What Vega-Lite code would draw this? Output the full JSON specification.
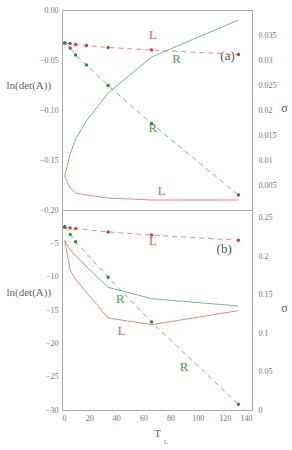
{
  "$schema": "https://vega.github.io/schema/vega-lite/v6.json",
  "padding": {"left": 5, "right": 2, "top": 5, "bottom": 1},
  "spacing": 0,
  "bounds": "flush",
  "config": {
    "font": "Liberation Serif",
    "view": {"stroke": "#aaaaaa", "strokeWidth": 1},
    "axis": {
      "labelFont": "Liberation Serif", "titleFont": "Liberation Serif",
      "labelColor": "#777777", "titleColor": "#666666",
      "labelFontSize": 8, "titleFontSize": 11, "titleFontWeight": "normal",
      "domain": false, "ticks": false, "grid": false, "labelOverlap": false, "tickCount": 30
    },
    "text": {"font": "Liberation Serif"}
  },
  "datasets": {
    "aDet": [
      {"T": 2, "v": -0.166, "series": "L"}, {"T": 6, "v": -0.178, "series": "L"}, {"T": 10, "v": -0.183, "series": "L"},
      {"T": 18, "v": -0.185, "series": "L"}, {"T": 34, "v": -0.188, "series": "L"}, {"T": 66, "v": -0.190, "series": "L"},
      {"T": 130, "v": -0.190, "series": "L"},
      {"T": 2, "v": -0.166, "series": "R"}, {"T": 6, "v": -0.144, "series": "R"}, {"T": 10, "v": -0.129, "series": "R"},
      {"T": 18, "v": -0.111, "series": "R"}, {"T": 34, "v": -0.083, "series": "R"}, {"T": 66, "v": -0.047, "series": "R"},
      {"T": 130, "v": -0.010, "series": "R"}
    ],
    "aSig": [
      {"T": 2, "s": 0.0334, "series": "L"}, {"T": 6, "s": 0.0333, "series": "L"}, {"T": 10, "s": 0.0331, "series": "L"},
      {"T": 18, "s": 0.0329, "series": "L"}, {"T": 34, "s": 0.0325, "series": "L"}, {"T": 66, "s": 0.0320, "series": "L"},
      {"T": 130, "s": 0.0311, "series": "L"},
      {"T": 2, "s": 0.0334, "series": "R"}, {"T": 6, "s": 0.0324, "series": "R"}, {"T": 10, "s": 0.0310, "series": "R"},
      {"T": 18, "s": 0.0290, "series": "R"}, {"T": 34, "s": 0.0249, "series": "R"}, {"T": 66, "s": 0.0173, "series": "R"},
      {"T": 130, "s": 0.0030, "series": "R"}
    ],
    "aLab": [
      {"T": 67, "v": -0.025, "text": "L", "series": "L"},
      {"T": 84.5, "v": -0.049, "text": "R", "series": "R"},
      {"T": 122, "v": -0.046, "text": "(a)", "series": "lab"},
      {"T": 67, "v": -0.118, "text": "R", "series": "R"},
      {"T": 73.5, "v": -0.181, "text": "L", "series": "L"}
    ],
    "bDet": [
      {"T": 2, "v": -4.6, "series": "L"}, {"T": 6, "v": -9.0, "series": "L"}, {"T": 10, "v": -10.4, "series": "L"},
      {"T": 34, "v": -16.2, "series": "L"}, {"T": 66, "v": -17.2, "series": "L"}, {"T": 130, "v": -15.1, "series": "L"},
      {"T": 2, "v": -4.6, "series": "R"}, {"T": 6, "v": -5.9, "series": "R"}, {"T": 10, "v": -6.9, "series": "R"},
      {"T": 34, "v": -11.6, "series": "R"}, {"T": 66, "v": -13.3, "series": "R"}, {"T": 130, "v": -14.4, "series": "R"}
    ],
    "bSig": [
      {"T": 2, "s": 0.2374, "series": "L"}, {"T": 6, "s": 0.2365, "series": "L"}, {"T": 10, "s": 0.2358, "series": "L"},
      {"T": 34, "s": 0.2315, "series": "L"}, {"T": 66, "s": 0.2274, "series": "L"}, {"T": 130, "s": 0.2207, "series": "L"},
      {"T": 2, "s": 0.2387, "series": "R"}, {"T": 6, "s": 0.2283, "series": "R"}, {"T": 10, "s": 0.2186, "series": "R"},
      {"T": 34, "s": 0.1725, "series": "R"}, {"T": 66, "s": 0.1143, "series": "R"}, {"T": 130, "s": 0.0075, "series": "R"}
    ],
    "bLab": [
      {"T": 67, "v": -4.7, "text": "L", "series": "L"},
      {"T": 119.5, "v": -5.8, "text": "(b)", "series": "lab"},
      {"T": 43, "v": -13.4, "text": "R", "series": "R"},
      {"T": 44, "v": -18.2, "text": "L", "series": "L"},
      {"T": 90, "v": -23.6, "text": "R", "series": "R"}
    ],
    "bSub": [
      {"T": 76.5, "v": -34.8, "text": "L", "series": "lab"}
    ]
  },
  "vconcat": [
    {
      "width": 190, "height": 200,
      "layer": [
        {
          "layer": [
            {
              "data": {"name": "aDet"},
              "mark": {"type": "line", "strokeWidth": 1, "opacity": 0.75},
              "encoding": {
                "x": {"field": "T", "type": "quantitative", "scale": {"domain": [0, 140]}, "axis": null},
                "y": {"field": "v", "type": "quantitative", "scale": {"domain": [-0.2, 0]},
                      "axis": {"orient": "left", "values": [0, -0.05, -0.1, -0.15, -0.2], "tickCount": 30, "format": ".2f", "labelPadding": 4,
                               "title": "ln(det(A))", "titleAngle": 0, "titleAlign": "left", "titleBaseline": "middle", "titleX": -56, "titleY": 75}},
                "color": {"field": "series", "type": "nominal", "scale": {"domain": ["L", "R", "lab"], "range": ["#e06060", "#4f9e62", "#555555"]}, "legend": null},
                "detail": {"field": "series"}
              }
            },
            {
              "data": {"name": "aLab"},
              "mark": {"type": "text", "fontSize": 13, "baseline": "middle", "align": "center"},
              "encoding": {
                "x": {"field": "T", "type": "quantitative"},
                "y": {"field": "v", "type": "quantitative"},
                "text": {"field": "text"},
                "color": {"field": "series", "type": "nominal", "legend": null}
              }
            }
          ]
        },
        {
          "layer": [
            {
              "data": {"name": "aSig"},
              "mark": {"type": "line", "strokeWidth": 1, "strokeDash": [5, 4], "opacity": 0.6},
              "encoding": {
                "x": {"field": "T", "type": "quantitative"},
                "y": {"field": "s", "type": "quantitative", "scale": {"domain": [0, 0.035]},
                      "axis": {"orient": "right", "values": [0.005, 0.01, 0.015, 0.02, 0.025, 0.03, 0.035], "tickCount": 30, "format": ".3~f", "labelPadding": 6,
                               "title": "σ", "titleAngle": 0, "titleAlign": "center", "titleBaseline": "middle", "titleX": 32, "titleY": 97, "titleFontSize": 12}},
                "color": {"field": "series", "type": "nominal", "legend": null}
              }
            },
            {
              "data": {"name": "aSig"},
              "mark": {"type": "circle", "size": 12, "opacity": 1},
              "encoding": {
                "x": {"field": "T", "type": "quantitative"},
                "y": {"field": "s", "type": "quantitative"},
                "color": {"field": "series", "type": "nominal", "scale": {"domain": ["L", "R", "lab"], "range": ["#d83a3a", "#2f8a45", "#444444"]}, "legend": null}
              }
            }
          ]
        }
      ],
      "resolve": {"scale": {"y": "independent", "color": "independent"}}
    },
    {
      "width": 190, "height": 200,
      "layer": [
        {
          "layer": [
            {
              "data": {"name": "bDet"},
              "mark": {"type": "line", "strokeWidth": 1, "opacity": 0.75},
              "encoding": {
                "x": {"field": "T", "type": "quantitative", "scale": {"domain": [0, 140]},
                      "axis": {"values": [0, 20, 40, 60, 80, 100, 120, 140], "tickCount": 30, "labelPadding": 4, "title": "T", "titleFontSize": 11, "titlePadding": 5}},
                "y": {"field": "v", "type": "quantitative", "scale": {"domain": [-30, 0]},
                      "axis": {"orient": "left", "values": [-5, -10, -15, -20, -25, -30], "tickCount": 30, "labelPadding": 4,
                               "title": "ln(det(A))", "titleAngle": 0, "titleAlign": "left", "titleBaseline": "middle", "titleX": -56, "titleY": 82}},
                "color": {"field": "series", "type": "nominal", "scale": {"domain": ["L", "R", "lab"], "range": ["#e06060", "#4f9e62", "#555555"]}, "legend": null}
              }
            },
            {
              "data": {"name": "bLab"},
              "mark": {"type": "text", "fontSize": 13, "baseline": "middle", "align": "center"},
              "encoding": {
                "x": {"field": "T", "type": "quantitative"},
                "y": {"field": "v", "type": "quantitative"},
                "text": {"field": "text"},
                "color": {"field": "series", "type": "nominal", "legend": null}
              }
            },
            {
              "data": {"name": "bSub"},
              "mark": {"type": "text", "fontSize": 7, "baseline": "middle", "align": "center", "opacity": 0.7},
              "encoding": {
                "x": {"field": "T", "type": "quantitative"},
                "y": {"field": "v", "type": "quantitative"},
                "text": {"field": "text"},
                "color": {"field": "series", "type": "nominal", "legend": null}
              }
            }
          ]
        },
        {
          "layer": [
            {
              "data": {"name": "bSig"},
              "mark": {"type": "line", "strokeWidth": 1, "strokeDash": [5, 4], "opacity": 0.6},
              "encoding": {
                "x": {"field": "T", "type": "quantitative"},
                "y": {"field": "s", "type": "quantitative", "scale": {"domain": [0, 0.25]},
                      "axis": {"orient": "right", "values": [0, 0.05, 0.1, 0.15, 0.2, 0.25], "tickCount": 30, "format": ".2~f", "labelPadding": 6,
                               "title": "σ", "titleAngle": 0, "titleAlign": "center", "titleBaseline": "middle", "titleX": 32, "titleY": 97, "titleFontSize": 12}},
                "color": {"field": "series", "type": "nominal", "legend": null}
              }
            },
            {
              "data": {"name": "bSig"},
              "mark": {"type": "circle", "size": 12, "opacity": 1},
              "encoding": {
                "x": {"field": "T", "type": "quantitative"},
                "y": {"field": "s", "type": "quantitative"},
                "color": {"field": "series", "type": "nominal", "scale": {"domain": ["L", "R", "lab"], "range": ["#d83a3a", "#2f8a45", "#444444"]}, "legend": null}
              }
            }
          ]
        }
      ],
      "resolve": {"scale": {"y": "independent", "color": "independent"}}
    }
  ]
}
